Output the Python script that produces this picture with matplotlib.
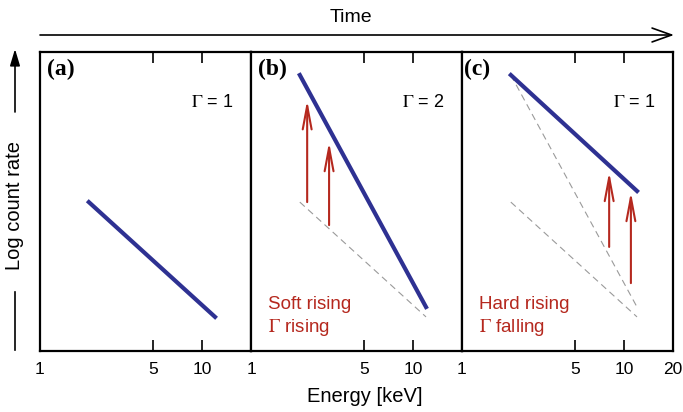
import matplotlib
matplotlib.use('Agg')
import matplotlib.pyplot as plt
from matplotlib.patches import FancyArrowPatch

plt.rcParams['font.family'] = ['Liberation Sans', 'DejaVu Sans']
plt.rcParams['mathtext.fontset'] = 'stix'

# Values (energy in keV, y = relative log count rate 0..1)
energy = [2.0, 12.0]
base_rate = [0.498, 0.114]      # Gamma = 1 starting spectrum
soft_rate = [0.923, 0.147]      # Gamma = 2 spectrum (b)
hard_rate = [0.923, 0.535]      # Gamma = 1 spectrum (c)

arrow_b_energy = [2.22, 3.03]
arrow_b_low = [0.498, 0.421]
arrow_b_high = [0.839, 0.699]

arrow_c_energy = [8.08, 11.0]
arrow_c_low = [0.348, 0.227]
arrow_c_high = [0.599, 0.532]

panel_labels = ['(a)', '(b)', '(c)']
gamma_labels = [r'$\Gamma$ = 1', r'$\Gamma$ = 2', r'$\Gamma$ = 1']
tick_sets = [[1, 5, 10], [1, 5, 10], [1, 5, 10, 20]]

blue = '#2e3192'
red = '#b5281e'
grey = '#9a9a9a'

fig = plt.figure(figsize=(6.83, 4.12), dpi=100)

left = 40 / 683
width = 211 / 683
bottom = 61 / 412
height = 299 / 412

axes = []
for i in range(3):
    ax = fig.add_axes([left + i * width, bottom, width, height])
    ax.set_xscale('log')
    ax.set_xlim(1, 20)
    ax.set_ylim(0, 1)
    ax.set_yticks([])
    ax.set_xticks(tick_sets[i])
    ax.set_xticklabels([str(t) for t in tick_sets[i]])
    ax.minorticks_off()
    ax.tick_params(axis='x', direction='in', length=8, width=1.2, top=True,
                   labelsize=12.5, pad=8)
    for s in ax.spines.values():
        s.set_linewidth(1.6)
    ax.text(0.035 if i < 2 else 0.01, 0.94, panel_labels[i], transform=ax.transAxes,
            family='Liberation Serif', fontweight='bold', fontsize=17,
            ha='left', va='center')
    ax.text(0.915, 0.83, gamma_labels[i], transform=ax.transAxes,
            fontsize=13, ha='right', va='center')
    axes.append(ax)

ax_a, ax_b, ax_c = axes

# (a)
ax_a.plot(energy, base_rate, color=blue, lw=3)

# (b)
ax_b.plot(energy, base_rate, color=grey, lw=0.8, ls=(0, (6, 4)))
ax_b.plot(energy, soft_rate, color=blue, lw=3)
for e, lo, hi in zip(arrow_b_energy, arrow_b_low, arrow_b_high):
    ax_b.annotate('', xy=(e, hi), xytext=(e, lo),
                  arrowprops=dict(arrowstyle='->,head_length=1.7,head_width=0.32',
                                  mutation_scale=10, color=red, lw=1.5,
                                  shrinkA=0, shrinkB=0))
ax_b.text(0.08, 0.154, 'Soft rising', transform=ax_b.transAxes, color=red,
          fontsize=13.5, ha='left', va='center')
ax_b.text(0.08, 0.077, r'$\Gamma$ rising', transform=ax_b.transAxes, color=red,
          fontsize=13.5, ha='left', va='center')

# (c)
ax_c.plot(energy, base_rate, color=grey, lw=0.8, ls=(0, (6, 4)))
ax_c.plot(energy, soft_rate, color=grey, lw=0.8, ls=(0, (6, 4)))
ax_c.plot(energy, hard_rate, color=blue, lw=3)
for e, lo, hi in zip(arrow_c_energy, arrow_c_low, arrow_c_high):
    ax_c.annotate('', xy=(e, hi), xytext=(e, lo),
                  arrowprops=dict(arrowstyle='->,head_length=1.7,head_width=0.32',
                                  mutation_scale=10, color=red, lw=1.5,
                                  shrinkA=0, shrinkB=0))
ax_c.text(0.08, 0.154, 'Hard rising', transform=ax_c.transAxes, color=red,
          fontsize=13.5, ha='left', va='center')
ax_c.text(0.08, 0.077, r'$\Gamma$ falling', transform=ax_c.transAxes, color=red,
          fontsize=13.5, ha='left', va='center')

# Axis labels and arrows
fig.text(365 / 683, 1 - 397 / 412, 'Energy [keV]', fontsize=14.5,
         ha='center', va='center')
fig.text(351 / 683, 1 - 17 / 412, 'Time', fontsize=14,
         ha='center', va='center')
fig.text(15 / 683, 1 - 205 / 412, 'Log count rate', fontsize=14.5,
         rotation=90, ha='center', va='center')

fig.add_artist(FancyArrowPatch((40 / 683, 1 - 35 / 412), (674 / 683, 1 - 35 / 412),
                               transform=fig.transFigure,
                               arrowstyle='->,head_length=1.4,head_width=0.5',
                               mutation_scale=10, color='black', lw=1.2,
                               shrinkA=0, shrinkB=0))
fig.add_artist(FancyArrowPatch((15 / 683, 1 - 112 / 412), (15 / 683, 1 - 49 / 412),
                               transform=fig.transFigure,
                               arrowstyle='-|>,head_length=1.0,head_width=0.3',
                               mutation_scale=10, color='black', lw=1.2,
                               shrinkA=0, shrinkB=0))
fig.add_artist(plt.Line2D([15 / 683, 15 / 683], [1 - 292 / 412, 1 - 350 / 412],
                          transform=fig.transFigure, color='black', lw=1.2))

plt.savefig('out.png', dpi=100)
